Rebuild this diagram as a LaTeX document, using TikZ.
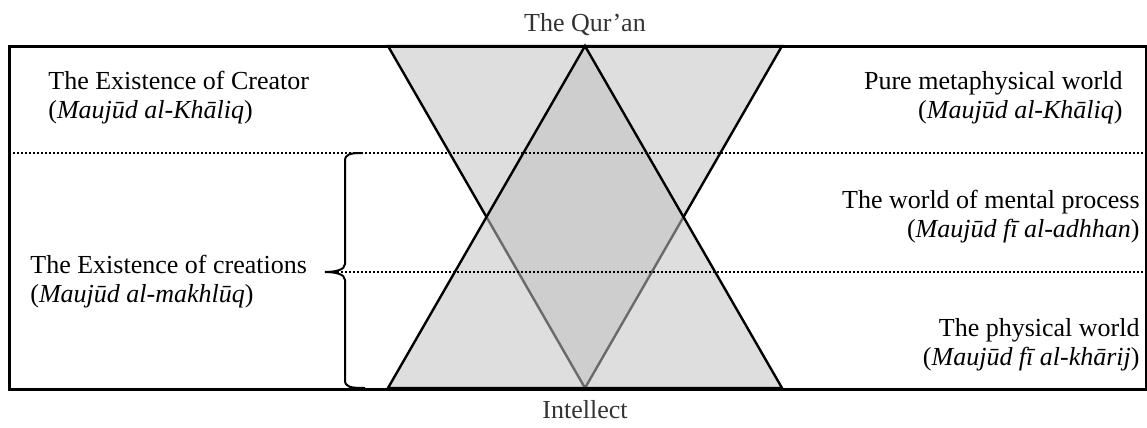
\documentclass[tikz,border=0pt]{standalone}
\usepackage{fontspec}
\setmainfont{Liberation Serif}
\usetikzlibrary{positioning}
\tikzset{
    outerbox/.style={line width=1.5pt},
    divider/.style={line width=1.1pt,dash pattern=on 1pt off 1pt},
    tri/.style={line width=1.2pt,line join=miter},
    bracket/.style={line width=1pt},
    lefttext/.style={anchor=west,align=left,inner sep=0pt},
    righttext/.style={anchor=east,align=right,inner sep=0pt},
    endtext/.style={anchor=base,inner sep=0pt,text=black!80}
}

\begin{document}
\begin{tikzpicture}[x=0.5pt,y=-0.5pt,every node/.style={font=\fontsize{13}{14.5}\selectfont}]
    \useasboundingbox (0,0) rectangle (1147,428);
    % corners of the two triangles
    \coordinate (TL) at (388,46);
    \coordinate (TR) at (782,46);
    \coordinate (BL) at (388,388);
    \coordinate (BR) at (782,388);
    \coordinate (apex) at (585,46);
    \coordinate (foot) at (585,388);
    \filldraw[tri,fill=black!13] (TL) -- (TR) -- (foot) -- cycle;
    \filldraw[tri,fill=black!24,fill opacity=0.55] (BL) -- (BR) -- (apex) -- cycle;
    % level dividers
    \coordinate (d1w) at (9,153);
    \coordinate (d1e) at (1146,153);
    \coordinate (d2w) at (333,272);
    \coordinate (d2e) at (1146,272);
    \draw[divider] (d1w) -- (d1e);
    \draw[divider] (d2w) -- (d2e);
    \draw[outerbox] (9,46) rectangle (1146.5,389);
    % brace
    \draw[bracket] (363,153) .. controls (350,153) and (345,154) .. (345,161)
        -- (345,264) .. controls (345,270) and (335,272) .. (325,272)
        .. controls (335,272) and (345,274) .. (345,280)
        -- (345,380) .. controls (345,387) and (350,388) .. (365,388);
    % labels
    \node[lefttext] (creator) at (48,97.5) {The Existence of Creator\\(\textit{Maujūd al-Khāliq})};
    \node[lefttext] (creations) at (30,281.5) {The Existence of creations\\(\textit{Maujūd al-makhlūq})};
    \node[righttext] (meta) at (1123,98) {Pure metaphysical world\\(\textit{Maujūd al-Khāliq})};
    \node[righttext] (mental) at (1140,216.5) {The world of mental process\\(\textit{Maujūd fī al-adhhan})};
    \node[righttext] (physical) at (1140,345) {The physical world\\(\textit{Maujūd fī al-khārij})};
    \node[endtext] (quran) at (585,32) {The Qur’an};
    \node[endtext] (intellect) at (585,418) {Intellect};
\end{tikzpicture}
\end{document}
